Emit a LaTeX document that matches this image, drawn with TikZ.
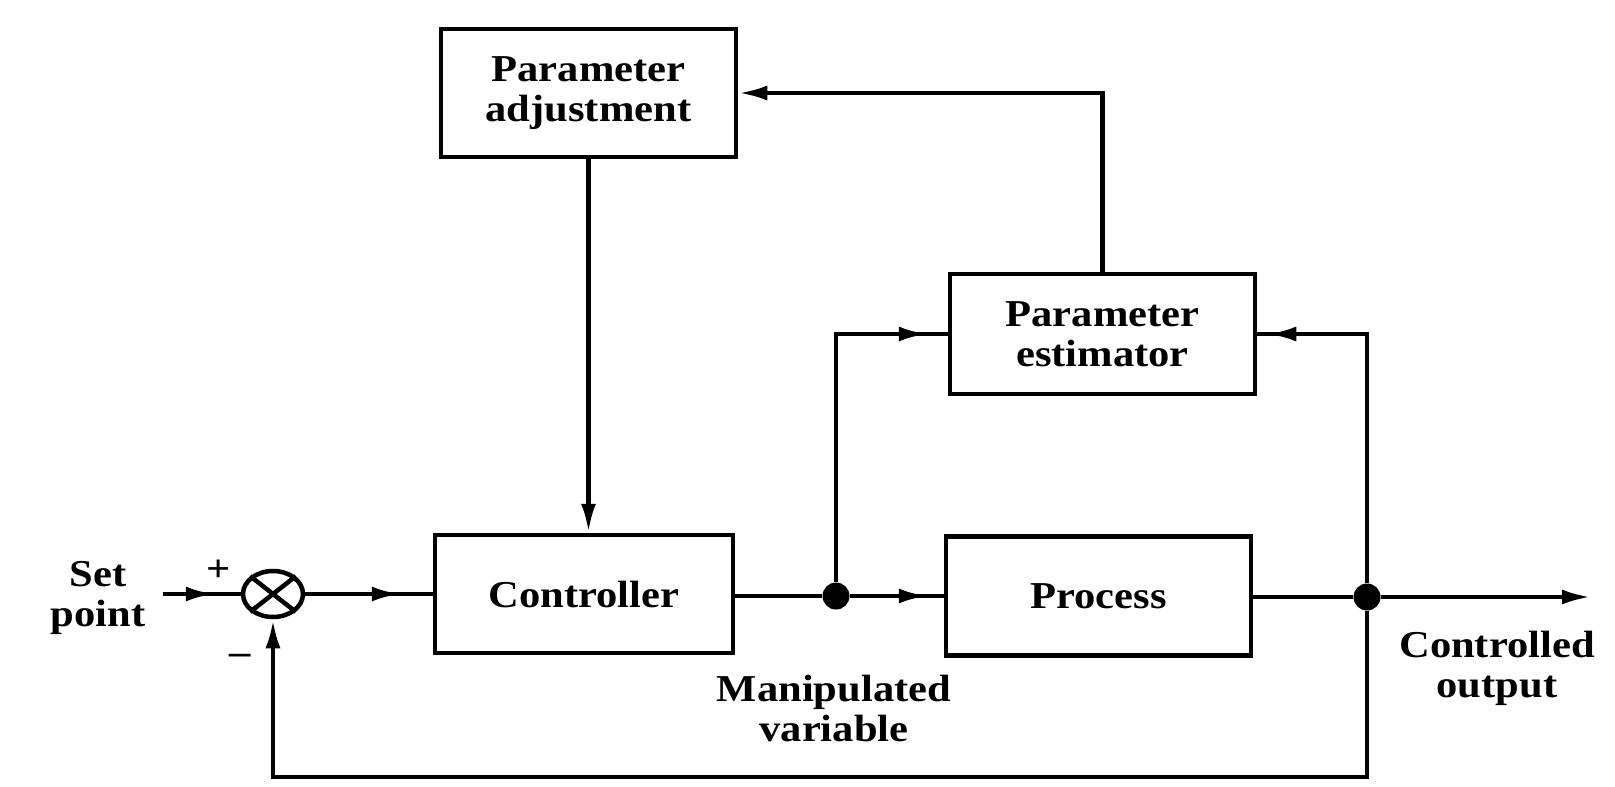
\documentclass[tikz,border=0pt]{standalone}
\usepackage{fontspec}
\setmainfont{Liberation Serif}[FakeStretch=1.12]
\usetikzlibrary{arrows.meta,decorations.markings,shapes.geometric}
\tikzset{
  tipstyle/.tip={Latex[length=29pt,width=15pt]},
  lbl/.style={align=center,inner sep=0pt,font=\fontsize{38}{40}\selectfont\bfseries},
  blk/.style={draw,line width=4.5pt,inner sep=0pt,align=center,font=\fontsize{38}{40}\selectfont\bfseries},
  wire/.style={line width=4.5pt},
  endtip/.style={wire,-{tipstyle}},
  midtip/.style={wire,postaction={decorate},decoration={markings,mark=at position #1 with {\arrow{tipstyle}}}},
  junction/.style={circle,fill=black,inner sep=0pt,minimum size=27pt},
  summer/.style={draw,ellipse,line width=4.5pt,minimum width=60pt,minimum height=46pt,inner sep=0pt}
}
\begin{document}
\begin{tikzpicture}[x=1pt,y=-1pt]
\useasboundingbox[fill=white] (0,0) rectangle (1615,787);
% blocks
\node[blk,minimum width=295pt,minimum height=128pt] (pa) at (588.5,93) {Parameter\\adjustment};
\node[blk,minimum width=305pt,minimum height=120pt] (pe) at (1102.5,334) {Parameter\\estimator};
\node[blk,minimum width=298pt,minimum height=118pt] (ctrl) at (584,594) {Controller};
\node[blk,minimum width=305pt,minimum height=119pt] (proc) at (1098.5,596) {Process};
% summing junction
\node[summer] (sum) at (273,594) {};
\draw[wire] (sum.north east) -- (sum.south west) (sum.north west) -- (sum.south east);
% junction dots
\node[junction] (d1) at (836,596) {};
\node[junction] (d2) at (1367,597) {};
% free ends
\coordinate (in) at (163,594);
\coordinate (out) at (1591,597);
\coordinate (fb) at (1367,777);
% labels
\node[lbl] (sp) at (98,598) {Set\\point};
\node[lbl] (plus) at (219,571) {+};
\node[lbl] (minus) at (240,659) {\textendash};
\node[lbl] (mv) at (834,708) {Manipulated\\variable};
\node[lbl] (co) at (1497,668) {Controlled\\output};
% connectors
\draw[midtip=-26pt] (in) -- (sum.west);
\draw[midtip=-32pt] (sum.east) -- (sum.east -| ctrl.west);
\draw[wire] (d1 -| ctrl.east) -- (d1);
\draw[midtip=-16pt] (d1) -- (d1 -| proc.west);
\draw[wire] (d2 -| proc.east) -- (d2);
\draw[endtip] (d2) -- (out);
\draw[midtip=-20pt] (d1) |- (pe.west);
\draw[midtip=-10pt] (d2) |- (pe.east);
\draw[endtip] (pe.north) |- (pa.east);
\draw[endtip] (pa.south) -- (pa.south |- ctrl.north);
\draw[endtip] (d2) -- (fb) -| (sum.south);
\end{tikzpicture}
\end{document}
